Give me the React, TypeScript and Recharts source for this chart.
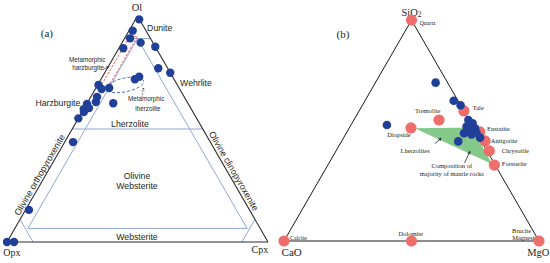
import React from 'react';
import { ComposedChart, Scatter, XAxis, YAxis, ReferenceLine, Line, Area } from 'recharts';

// ---------- Panel (a): Ol - Opx - Cpx (percent) ----------
const peridotiteOl = [98.5, 93.5, 90.1, 88.2, 86.4, 85.7, 76.9, 74.9, 73.1, 72, 69.5, 67.7, 68.1, 64.2, 61.9, 61.4, 61.1, 59.3, 58.8, 57.5, 54.7, 44.2, 14.2, 0, 0];
const peridotiteOpx = [0.1, 5.1, 7.8, 4.7, 0, 12.6, 3.6, 0, 12.8, 15, 30.2, 29.9, 26.8, 33.4, 35, 28.6, 38.8, 39, 41.2, 41.8, 45.3, 52.6, 84.5, 100, 97.3];
const peridotiteCpx = [1.4, 1.4, 2.1, 7.1, 13.6, 1.7, 19.5, 25.1, 14.1, 13, 0.3, 2.4, 5.1, 2.4, 3.1, 10, 0.1, 1.8, 0, 0.7, 0, 3.2, 1.3, 0, 2.7];

// field boundaries (Ol, Opx, Cpx)
const leftOutline = [[100, 0, 0], [0, 100, 0], [0, 0, 100]];
const leftFieldLines = [
  [[90, 10, 0], [90, 0, 10]],
  [[50, 50, 0], [50, 0, 50]],
  [[90, 5, 5], [6, 89, 5]],
  [[90, 5, 5], [6, 5, 89]],
  [[6, 89, 5], [6, 5, 89]],
  [[10, 90, 0], [0, 90, 10]],
  [[10, 0, 90], [0, 10, 90]],
];
const metaHarzburgite = [[91, 7.5, 1.5], [91, 4.5, 4.5], [68, 27.5, 4.5], [68, 30.5, 1.5]];
const metaLherzolite = [[71.4, 11.2, 17.4], [68.5, 14.5, 17.0], [66.2, 21.1, 12.7], [65.8, 27.0, 7.2], [67.5, 28.9, 3.6], [70.4, 25.6, 4.0], [72.8, 19.0, 8.2], [73.2, 13.1, 13.7]];

// ---------- Panel (b): SiO2 - CaO - MgO (mol %) ----------
const mineralNames = ['Quartz', 'Tale', 'Tremolite', 'Diopside', 'Enstatite', 'Antigorite', 'Chrysotile', 'Forsterite', 'Calcite', 'Dolomite', 'Brucite Magnesite'];
const mineralSiO2 = [100, 58.9, 54.8, 51.2, 49.4, 45.3, 40.8, 34.4, 0, 0, 0];
const mineralCaO = [0, 0, 11.8, 24.6, -1.5, -1.5, -0.9, 0.3, 100, 50, 0];
const mineralMgO = [0, 41.1, 33.4, 24.2, 52.1, 56.2, 60.1, 65.3, 0, 50, 100];

const sampleSiO2 = [71.7, 63.5, 61.5, 52.5, 54.8, 53.3, 51.8, 51.0, 49.8, 48.8, 48.3, 46.8, 45.1, 49.6, 49.1];
const sampleCaO = [4.7, 1.7, 0, 33.4, 0.3, -0.6, 2.5, -0.4, 1.9, 5, 2.3, -0.3, 9.1, 3.4, 0];
const sampleMgO = [23.6, 34.8, 38.5, 14.1, 44.9, 47.3, 45.7, 49.4, 48.3, 46.2, 49.4, 53.5, 45.8, 47, 50.9];

const mantleField = [[51, 23.2, 25.8], [51.4, 0.6, 48], [34.9, 1, 64.1]];
const rightOutline = [[100, 0, 0], [0, 100, 0], [0, 0, 100]];

// ---------- annotations (panel units: triangle side = 1) ----------
const SERIF = 'Liberation Serif';
const SANS = 'Liberation Sans';
const leftLabels = [
  { t: 'Ol', x: 0.498, y: 0.897, fs: 10.5, f: SERIF },
  { t: '(a)', x: 0.153, y: 0.801, fs: 11, f: SERIF },
  { t: 'Dunite', x: 0.585, y: 0.82, fs: 8.7, f: SANS },
  { t: 'Wehrlite', x: 0.724, y: 0.609, fs: 8.7, f: SANS },
  { t: 'Harzburgite', x: 0.195, y: 0.533, fs: 8.7, f: SANS },
  { t: 'Metamorphic', x: 0.307, y: 0.701, fs: 6.3, f: SANS },
  { t: 'harzburgite', x: 0.31, y: 0.667, fs: 6.3, f: SANS },
  { t: 'Metamorphic', x: 0.533, y: 0.548, fs: 6.3, f: SANS },
  { t: 'lherzolite', x: 0.54, y: 0.513, fs: 6.3, f: SANS },
  { t: 'Lherzolite', x: 0.471, y: 0.452, fs: 8.7, f: SANS },
  { t: 'Olivine', x: 0.498, y: 0.253, fs: 8.7, f: SANS },
  { t: 'Websterite', x: 0.498, y: 0.215, fs: 8.7, f: SANS },
  { t: 'Websterite', x: 0.498, y: 0.019, fs: 8.7, f: SANS },
  { t: 'Olivine orthopyroxenite', x: 0.125, y: 0.257, fs: 9, f: SANS, rot: -60 },
  { t: 'Olivine clinopyroxenite', x: 0.868, y: 0.272, fs: 9, f: SANS, rot: 60 },
  { t: 'Opx', x: 0.019, y: -0.042, fs: 10, f: SERIF },
  { t: 'Cpx', x: 0.969, y: -0.027, fs: 10, f: SERIF },
];
const rightLabels = [
  { t: 'SiO', sub: '2', x: 0.5, y: 0.898, fs: 10.5, f: SERIF },
  { t: 'Quartz', x: 0.563, y: 0.855, fs: 6, f: SERIF },
  { t: '(b)', x: 0.231, y: 0.812, fs: 11, f: SERIF },
  { t: 'Tale', x: 0.74, y: 0.524, fs: 6.5, f: SERIF, a: 'start' },
  { t: 'Tremolite', x: 0.5635, y: 0.51, fs: 6.5, f: SERIF },
  { t: 'Enstatite', x: 0.796, y: 0.442, fs: 6.5, f: SERIF, a: 'start' },
  { t: 'Antigorite', x: 0.8106, y: 0.393, fs: 6.5, f: SERIF, a: 'start' },
  { t: 'Chrysotile', x: 0.854, y: 0.354, fs: 6.5, f: SERIF, a: 'start' },
  { t: 'Forsterite', x: 0.854, y: 0.302, fs: 6.5, f: SERIF, a: 'start' },
  { t: 'Diopside', x: 0.451, y: 0.416, fs: 6.5, f: SERIF },
  { t: 'Lherzolites', x: 0.514, y: 0.354, fs: 6.5, f: SERIF },
  { t: 'Composition of', x: 0.658, y: 0.295, fs: 6.5, f: SERIF },
  { t: 'majority of mantle rocks', x: 0.658, y: 0.265, fs: 6.5, f: SERIF },
  { t: 'Calcite', x: 0.0235, y: 0.0106, fs: 6, f: SERIF, a: 'start' },
  { t: 'Dolomite', x: 0.497, y: 0.03, fs: 6.5, f: SERIF },
  { t: 'Brucite', x: 0.932, y: 0.043, fs: 6.5, f: SERIF },
  { t: 'Magnesite', x: 0.948, y: 0.012, fs: 6.5, f: SERIF },
  { t: 'CaO', x: 0.03, y: -0.044, fs: 11, f: SERIF },
  { t: 'MgO', x: 0.997, y: -0.044, fs: 10.5, f: SERIF },
];
const leftArrows = [
  { x1: 0.368, y1: 0.661, x2: 0.391, y2: 0.672, dash: false },
  { x1: 0.517, y1: 0.556, x2: 0.523, y2: 0.59, dash: true },
];
const rightArrows = [
  { x1: 0.592, y1: 0.382, x2: 0.616, y2: 0.403 },
  { x1: 0.708, y1: 0.306, x2: 0.729, y2: 0.351 },
];

// chart windows (panel units)
const LEFT_X = [-7 / 261, 268 / 261];
const LEFT_Y = [-21 / 261, 242 / 261];
const RIGHT_X = [-9 / 255, 266 / 255];
const RIGHT_Y = [-22 / 255, 241 / 255];

const H = Math.sqrt(3) / 2;
const tern = (top: number, left: number, right: number) => {
  const s = top + left + right;
  const t = top / s;
  const r = right / s;
  return { x: r + t / 2, y: t * H };
};
const tp = (v: number[]) => tern(v[0], v[1], v[2]);

const BLUE = '#1f3f98';
const RED = '#ee6e6b';
const FIELD = '#91a9d8';

const arrowSegs = (a: any, unit: number) => {
  const dx = a.x2 - a.x1;
  const dy = a.y2 - a.y1;
  const ang = Math.atan2(dy, dx);
  const L = 3 / unit;
  const segs = [[{ x: a.x1, y: a.y1 }, { x: a.x2, y: a.y2 }]];
  [0.45, -0.45].forEach((d) => {
    segs.push([{ x: a.x2, y: a.y2 }, { x: a.x2 - L * Math.cos(ang + d), y: a.y2 - L * Math.sin(ang + d) }]);
  });
  return segs.map((s) => ({ s, dash: a.dash }));
};

const TextShape = (props: any) => {
  const { cx, cy, payload } = props;
  const p = payload;
  return (
    <text
      x={cx}
      y={cy}
      textAnchor={p.a || 'middle'}
      dominantBaseline="central"
      fontFamily={p.f}
      fontSize={p.fs}
      fill="#231f20"
      transform={p.rot ? `rotate(${p.rot} ${cx} ${cy})` : undefined}
    >
      {p.t}
      {p.sub ? (
        <tspan fontSize={p.fs * 0.7} dy={2}>
          {p.sub}
        </tspan>
      ) : null}
    </text>
  );
};

const dot = (r: number, fill: string) => (props: any) => <circle cx={props.cx} cy={props.cy} r={r} fill={fill} />;

function LeftPanel() {
  const samples = peridotiteOl.map((ol, i) => tern(ol, peridotiteOpx[i], peridotiteCpx[i]));
  const outlineSegs = leftOutline.map((v, i) => [tp(v), tp(leftOutline[(i + 1) % 3])]);
  const fieldSegs = leftFieldLines.map(([a, b]) => [tp(a), tp(b)]);
  const rect = metaHarzburgite.map(tp);
  const ell = metaLherzolite.map(tp);
  const arrows = leftArrows.flatMap((a) => arrowSegs(a, 261));
  return (
    <ComposedChart width={275} height={263} data={[]} margin={{ top: 0, right: 0, bottom: 0, left: 0 }}>
      <XAxis type="number" dataKey="x" domain={LEFT_X} hide allowDataOverflow />
      <YAxis type="number" dataKey="y" domain={LEFT_Y} hide allowDataOverflow />
      {fieldSegs.map((s, i) => (
        <ReferenceLine key={'f' + i} segment={s} stroke={FIELD} strokeWidth={1} ifOverflow="visible" />
      ))}
      {outlineSegs.map((s, i) => (
        <ReferenceLine key={'o' + i} segment={s} stroke="#2b2b2b" strokeWidth={1.1} ifOverflow="visible" />
      ))}
      {arrows.map((a, i) => (
        <ReferenceLine key={'a' + i} segment={a.s} stroke="#333" strokeWidth={0.7} strokeDasharray={a.dash ? '1.5 1' : undefined} ifOverflow="visible" />
      ))}
      <Line data={rect} dataKey="y" type="linearClosed" stroke="#e0413b" strokeWidth={0.8} strokeDasharray="2.5 1.5" dot={false} isAnimationActive={false} />
      <Line data={ell} dataKey="y" type="basisClosed" stroke="#3c5aa8" strokeWidth={0.9} strokeDasharray="3 2" dot={false} isAnimationActive={false} />
      <Scatter data={leftLabels} shape={TextShape} isAnimationActive={false} />
      <Scatter data={samples} shape={dot(4.2, BLUE)} isAnimationActive={false} />
    </ComposedChart>
  );
}

function RightPanel() {
  const minerals = mineralNames.map((n, i) => ({ name: n, ...tern(mineralSiO2[i], mineralCaO[i], mineralMgO[i]) }));
  const samples = sampleSiO2.map((s, i) => tern(s, sampleCaO[i], sampleMgO[i]));
  const outlineSegs = rightOutline.map((v, i) => [tp(v), tp(rightOutline[(i + 1) % 3])]);
  const [g1, g2, g3] = mantleField.map(tp);
  const t = (g2.x - g1.x) / (g3.x - g1.x);
  const lowAtG2 = g1.y + t * (g3.y - g1.y);
  const greenRows = [
    { x: g1.x, range: [g1.y, g1.y] },
    { x: g2.x, range: [lowAtG2, g2.y] },
    { x: g3.x, range: [g3.y, g3.y] },
  ];
  const arrows = rightArrows.flatMap((a) => arrowSegs(a, 255));
  return (
    <ComposedChart width={275} height={263} data={greenRows} margin={{ top: 0, right: 0, bottom: 0, left: 0 }}>
      <XAxis type="number" dataKey="x" domain={RIGHT_X} hide allowDataOverflow />
      <YAxis type="number" dataKey="y" domain={RIGHT_Y} hide allowDataOverflow />
      <Area dataKey="range" type="linear" fill="#84c98a" fillOpacity={1} stroke="none" isAnimationActive={false} />
      {outlineSegs.map((s, i) => (
        <ReferenceLine key={'o' + i} segment={s} stroke="#1a1a1a" strokeWidth={1} ifOverflow="visible" />
      ))}
      {arrows.map((a, i) => (
        <ReferenceLine key={'a' + i} segment={a.s} stroke="#222" strokeWidth={0.8} ifOverflow="visible" />
      ))}
      <Scatter data={rightLabels} shape={TextShape} isAnimationActive={false} />
      <Scatter data={minerals} shape={dot(5.6, RED)} isAnimationActive={false} />
      <Scatter data={samples} shape={dot(4.3, BLUE)} isAnimationActive={false} />
    </ComposedChart>
  );
}

export default function App() {
  return (
    <div style={{ position: 'absolute', left: 0, top: 0, width: 550, height: 263, background: '#fff' }}>
      <div style={{ position: 'absolute', left: 0, top: 0 }}>
        <LeftPanel />
      </div>
      <div style={{ position: 'absolute', left: 275, top: 0 }}>
        <RightPanel />
      </div>
    </div>
  );
}
